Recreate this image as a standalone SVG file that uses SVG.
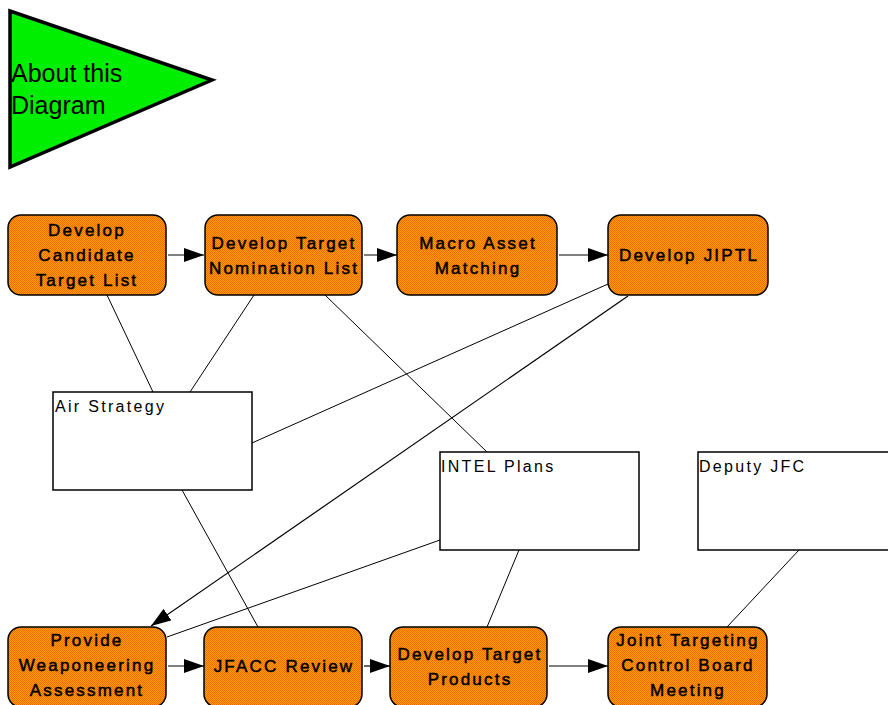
<svg xmlns="http://www.w3.org/2000/svg" width="888" height="705" viewBox="0 0 888 705">
<defs>
<pattern id="dither" patternUnits="userSpaceOnUse" width="2" height="2">
<rect width="2" height="2" fill="#ffa000"/>
<rect width="1" height="1" fill="#f06800"/>
<rect x="1" y="1" width="1" height="1" fill="#f06800"/>
</pattern>
<marker id="arr" markerUnits="userSpaceOnUse" markerWidth="22" markerHeight="14" refX="20" refY="7" orient="auto">
<path d="M0,0 L20,7 L0,14 Z" fill="#000"/>
</marker>
</defs>
<style>
.node rect{fill:url(#dither);stroke:#000;stroke-width:1.5}
.node text{font-family:"Liberation Sans",Arial,sans-serif;font-size:17px;letter-spacing:2.2px;text-anchor:middle;fill:#000;stroke:#000;stroke-width:0.5}
.box rect{fill:#fff;stroke:#000;stroke-width:1.5}
.box text{font-family:"Liberation Sans",Arial,sans-serif;font-size:16px;letter-spacing:2.3px;fill:#000}
.conn line{stroke:#000;stroke-width:1}
.conn line.a{stroke-width:1.2;marker-end:url(#arr)}
</style>
<rect width="888" height="705" fill="#fff"/>
<g id="about">
<polygon points="10,11 10,167 212,80" fill="#00ee00" stroke="#000" stroke-width="3.5"/>
<text x="11" y="82" font-family="'Liberation Sans',Arial,sans-serif" font-size="25" fill="#000">About this</text>
<text x="11" y="114" font-family="'Liberation Sans',Arial,sans-serif" font-size="25" fill="#000">Diagram</text>
</g>
<g id="connectors" class="conn">
<line class="a" x1="168" y1="255" x2="204" y2="255"/>
<line class="a" x1="364" y1="255" x2="397" y2="255"/>
<line class="a" x1="559" y1="255" x2="608" y2="255"/>
<line class="a" x1="168" y1="666" x2="204" y2="666"/>
<line class="a" x1="364" y1="666" x2="390" y2="666"/>
<line class="a" x1="549" y1="666" x2="608" y2="666"/>
<line class="a" x1="628" y1="296" x2="151" y2="626"/>
<line x1="107" y1="295" x2="153" y2="392"/>
<line x1="254" y1="295" x2="190" y2="392"/>
<line x1="325" y1="295" x2="487" y2="452"/>
<line x1="608" y1="284" x2="252" y2="443"/>
<line x1="182" y1="490" x2="258" y2="627"/>
<line x1="440" y1="540" x2="167" y2="637"/>
<line x1="519" y1="550" x2="487" y2="627"/>
<line x1="799" y1="550" x2="727" y2="627"/>
</g>
<g id="n1" class="node"><rect x="8" y="215" width="158" height="80" rx="13"/><text x="87" y="236">Develop</text><text x="87" y="261">Candidate</text><text x="87" y="286">Target List</text></g>
<g id="n2" class="node"><rect x="205" y="215" width="157" height="80" rx="13"/><text x="284" y="249">Develop Target</text><text x="284" y="274">Nomination List</text></g>
<g id="n3" class="node"><rect x="397" y="215" width="160" height="80" rx="13"/><text x="478" y="249">Macro Asset</text><text x="478" y="274">Matching</text></g>
<g id="n4" class="node"><rect x="608" y="215" width="160" height="80" rx="13"/><text x="689" y="261">Develop JIPTL</text></g>
<g id="n5" class="node"><rect x="8" y="627" width="158" height="80" rx="13"/><text x="87" y="646">Provide</text><text x="87" y="671">Weaponeering</text><text x="87" y="696">Assessment</text></g>
<g id="n6" class="node"><rect x="204" y="627" width="158" height="80" rx="13"/><text x="284" y="672">JFACC Review</text></g>
<g id="n7" class="node"><rect x="390" y="627" width="157" height="80" rx="13"/><text x="470" y="660">Develop Target</text><text x="470" y="685">Products</text></g>
<g id="n8" class="node"><rect x="608" y="627" width="159" height="80" rx="13"/><text x="688" y="646">Joint Targeting</text><text x="688" y="671">Control Board</text><text x="688" y="696">Meeting</text></g>
<g id="b1" class="box"><rect x="53" y="392" width="199" height="98"/><text x="55" y="412">Air Strategy</text></g>
<g id="b2" class="box"><rect x="440" y="452" width="199" height="98"/><text x="441" y="472">INTEL Plans</text></g>
<g id="b3" class="box"><rect x="698" y="452" width="200" height="98"/><text x="699" y="472">Deputy JFC</text></g>
</svg>
